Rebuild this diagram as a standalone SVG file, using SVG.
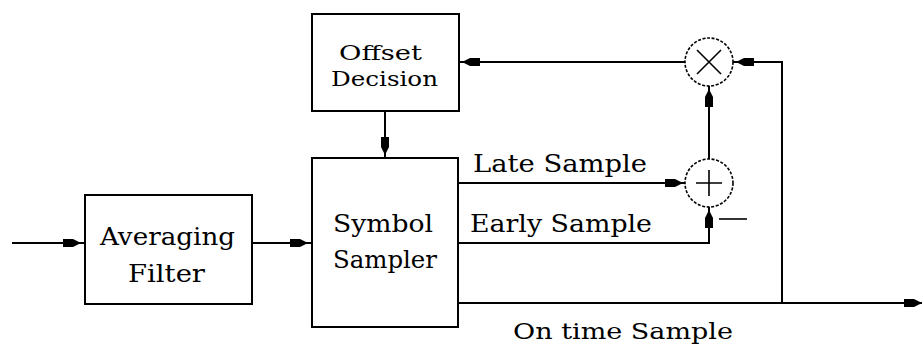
<svg xmlns="http://www.w3.org/2000/svg" xmlns:xlink="http://www.w3.org/1999/xlink" width="922" height="346" viewBox="0 0 922 346">
  <style>
    .box { fill: #fff; stroke: #000; stroke-width: 2; }
    .op { fill: #fff; stroke: #000; stroke-width: 1.6; stroke-dasharray: 3 1.6; }
    .sym { stroke: #000; stroke-width: 1.6; fill: none; }
    .wire { stroke: #000; stroke-width: 2; fill: none; }
    .lbl { font-family: "DejaVu Serif", "Liberation Serif", serif; font-size: 24px; fill: #000; }
    .sm { font-size: 21px; }
  </style>
  <defs>
    <path id="ah" d="M0,0 L-8,-4 L-18,-4 L-18,4 L-8,4 Z" fill="#000"/>
  </defs>
  <rect width="922" height="346" fill="#fff"/>

  <g id="connectors">
    <path class="wire" d="M12,243 H85"/>
    <path class="wire" d="M252,243 H312"/>
    <path class="wire" d="M385,111 V158"/>
    <path class="wire" d="M459,62 H685"/>
    <path class="wire" d="M733,62 H782 V303"/>
    <path class="wire" d="M709,159 V86"/>
    <path class="wire" d="M458,183 H685"/>
    <path class="wire" d="M458,243 H709 V207"/>
    <path class="wire" d="M458,303 H922"/>
    <use xlink:href="#ah" href="#ah" transform="translate(81,243)"/>
    <use xlink:href="#ah" href="#ah" transform="translate(308,243)"/>
    <use xlink:href="#ah" href="#ah" transform="translate(385,155) rotate(90)"/>
    <use xlink:href="#ah" href="#ah" transform="translate(462,62) rotate(180)"/>
    <use xlink:href="#ah" href="#ah" transform="translate(736,62) rotate(180)"/>
    <use xlink:href="#ah" href="#ah" transform="translate(709,89) rotate(270)"/>
    <use xlink:href="#ah" href="#ah" transform="translate(683,183)"/>
    <use xlink:href="#ah" href="#ah" transform="translate(709,210) rotate(270)"/>
    <use xlink:href="#ah" href="#ah" transform="translate(922,303)"/>
    <text class="lbl" x="473" y="172" textLength="174" lengthAdjust="spacingAndGlyphs">Late Sample</text>
    <text class="lbl" x="470" y="232" textLength="182" lengthAdjust="spacingAndGlyphs">Early Sample</text>
    <text class="lbl" x="513" y="339" style="font-size:23px" textLength="220" lengthAdjust="spacingAndGlyphs">On time Sample</text>
  </g>

  <g id="offset-decision">
    <rect class="box" x="312" y="14" width="147" height="97"/>
    <text class="lbl sm" x="339" y="60" textLength="83" lengthAdjust="spacingAndGlyphs">Offset</text>
    <text class="lbl sm" x="331" y="86" textLength="107" lengthAdjust="spacingAndGlyphs">Decision</text>
  </g>

  <g id="averaging-filter">
    <rect class="box" x="85" y="195" width="167" height="109"/>
    <text class="lbl" x="100" y="245" textLength="135" lengthAdjust="spacingAndGlyphs">Averaging</text>
    <text class="lbl" x="128" y="282" textLength="77" lengthAdjust="spacingAndGlyphs">Filter</text>
  </g>

  <g id="symbol-sampler">
    <rect class="box" x="312" y="158" width="146" height="169"/>
    <text class="lbl" x="333" y="232" textLength="100" lengthAdjust="spacingAndGlyphs">Symbol</text>
    <text class="lbl" x="333" y="268" textLength="104" lengthAdjust="spacingAndGlyphs">Sampler</text>
  </g>

  <g id="multiplier">
    <circle class="op" cx="709" cy="62" r="24"/>
    <path class="sym" d="M697,50 L721,74 M721,50 L697,74"/>
  </g>

  <g id="adder">
    <circle class="op" cx="709" cy="183" r="24"/>
    <path class="sym" d="M696,183 H722 M709,170 V196"/>
    <path class="sym" d="M719,219 H747"/>
  </g>
</svg>
